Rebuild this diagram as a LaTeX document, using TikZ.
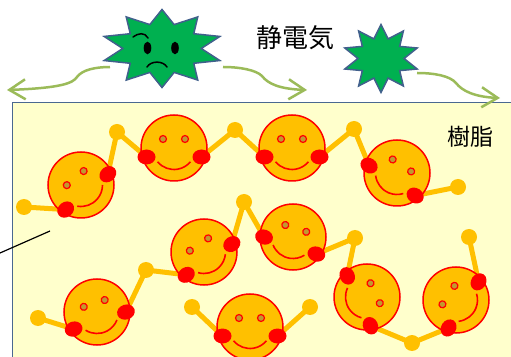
\documentclass[tikz,border=0pt]{standalone}
\usepackage{fontspec}
\newfontfamily\jpfont{Noto Sans CJK JP}
\usetikzlibrary{shapes.geometric,arrows.meta}

\definecolor{resinfill}{HTML}{FFFFCC}
\definecolor{resinedge}{HTML}{4A6890}
\definecolor{smileorange}{HTML}{FFC000}
\definecolor{smilered}{HTML}{FF0000}
\definecolor{eyegold}{HTML}{C09A30}
\definecolor{burstgreen}{HTML}{00B050}
\definecolor{burstedge}{HTML}{41608C}
\definecolor{flowgreen}{HTML}{9BBB59}

\pgfdeclarelayer{resinlayer}
\pgfdeclarelayer{linklayer}
\pgfsetlayers{resinlayer,linklayer,main}

\tikzset{
  face/.style={circle, draw=smilered, fill=smileorange, line width=1.5pt,
    minimum size=66pt, inner sep=0pt},
  mouth/.style={draw=smilered, line width=1.6pt},
  eye/.style={draw=smilered, fill=eyegold, line width=1.2pt},
  cheek/.style={fill=smilered},
  link/.style={draw=smileorange, line width=5pt},
  ball/.style={circle, fill=smileorange, minimum size=16pt, inner sep=0pt},
  burst/.style={star, star points=10, draw=burstedge, fill=burstgreen,
    line width=1.5pt, inner sep=0pt, transform shape},
  flow/.style={draw=flowgreen, line width=2.5pt,
    -{Straight Barb[length=16pt,width=20pt]}},
  resinbox/.style={draw=resinedge, fill=resinfill, line width=1.3pt,
    inner sep=0pt, anchor=south west},
  sadface/.style={black, line width=1.5pt, line cap=round},
}

% smiley: name, x, y, rotation
\newcommand\smileyface[4]{%
  \begin{scope}[shift={(#2,#3)},rotate=#4]
    \node[face] (#1) at (0,0) {};
    \draw[mouth] (-140:21.5) arc[start angle=-140,end angle=-40,radius=21.5];
    \draw[eye] (-11,9) circle[radius=3.5];
    \draw[eye] (11,9) circle[radius=3.5];
    \coordinate (#1-l) at (-27.5,-9);
    \coordinate (#1-r) at (27.5,-9);
    \fill[cheek] (-27.5,-9) ellipse[x radius=9,y radius=7.5];
    \fill[cheek] (27.5,-9) ellipse[x radius=9,y radius=7.5];
  \end{scope}}

\begin{document}
\begin{tikzpicture}[x=1pt,y=1pt]
  \useasboundingbox (0,0) rectangle (511,356);

  % resin block
  \begin{pgfonlayer}{resinlayer}
    \node[resinbox, minimum width=520pt, minimum height=270pt] (resin) at (12,-17) {};
  \end{pgfonlayer}

  % upper chain
  \smileyface{A}{81}{171}{40}
  \smileyface{B}{174}{208}{0}
  \smileyface{C}{292}{208}{0}
  \smileyface{D}{397}{183}{-33}
  % lower chain
  \smileyface{F}{97}{44}{18}
  \smileyface{E}{204}{104}{34}
  \smileyface{G}{293}{119}{-18}
  \smileyface{H}{367}{59}{-65}
  \smileyface{I}{456}{56}{57}
  % single molecule
  \smileyface{J}{250}{29}{0}

  \begin{pgfonlayer}{linklayer}
    \node[ball] (b1) at (24,149) {};
    \node[ball] (b2) at (117,224) {};
    \node[ball] (b3) at (235,226) {};
    \node[ball] (b4) at (354,227) {};
    \node[ball] (b5) at (458,169) {};
    \node[ball] (c1) at (38,38) {};
    \node[ball] (c2) at (146,86) {};
    \node[ball] (c3) at (244,154) {};
    \node[ball] (c4) at (355,118) {};
    \node[ball] (c5) at (412,13) {};
    \node[ball] (c6) at (469,119) {};
    \node[ball] (j1) at (192,49) {};
    \node[ball] (j2) at (310,49) {};
    \draw[link] (b1.center) -- (A-l) (A-r) -- (b2.center) -- (B-l)
      (B-r) -- (b3.center) -- (C-l) (C-r) -- (b4.center) -- (D-l)
      (D-r) -- (b5.center);
    \draw[link] (c1.center) -- (F-l) (F-r) -- (c2.center) -- (E-l)
      (E-r) -- (c3.center) -- (G-l) (G-r) -- (c4.center) -- (H-l)
      (H-r) -- (c5.center) -- (I-l) (I-r) -- (c6.center);
    \draw[link] (j1.center) -- (J-l) (J-r) -- (j2.center);
  \end{pgfonlayer}

  % static charges
  \begin{scope}[shift={(162,307.5)},xscale=1.56]
    \node[burst, star point ratio=1.55, minimum size=78pt] (bigburst) at (0,0) {};
  \end{scope}
  \begin{scope}[shift={(381,297.5)},xscale=1.12]
    \node[burst, star point ratio=1.65, minimum size=68pt] (smallburst) at (0,0) {};
  \end{scope}
  \fill (147.5,308) ellipse[x radius=3.8,y radius=6.3];
  \fill (175,308) ellipse[x radius=3.8,y radius=6.3];
  \draw[sadface] (133,319) .. controls (138,323) and (145,324) .. (148,318);
  \draw[sadface] (147,289) .. controls (151,295.5) and (163,295.5) .. (167,289);

  % drifting paths
  \coordinate (fl-s) at (110,289);
  \coordinate (fl-e) at (7,266);
  \coordinate (fr-s) at (223,289);
  \coordinate (fr-e) at (307,266);
  \coordinate (fs-s) at (417,283);
  \coordinate (fs-e) at (500,258);
  \draw[flow] (fl-s) .. controls (95,289) and (82,286) .. (77,279)
    .. controls (73,273) and (62,268) .. (fl-e);
  \draw[flow] (fr-s) .. controls (240,289) and (256,286) .. (262,280)
    .. controls (268,272) and (280,267) .. (fr-e);
  \draw[flow] (fs-s) .. controls (435,283) and (450,280) .. (456,273)
    .. controls (462,265) and (475,259) .. (fs-e);

  % labels
  \node[font=\jpfont\fontsize{26}{30}\selectfont] (staticlabel) at (295,318) {静電気};
  \node[font=\jpfont\fontsize{23}{27}\selectfont] (resinlabel) at (470,219) {樹脂};

  % pointer line
  \coordinate (pt-a) at (0,103);
  \coordinate (pt-b) at (50,125);
  \draw[black, line width=1.2pt] (pt-a) -- (pt-b);
\end{tikzpicture}
\end{document}
